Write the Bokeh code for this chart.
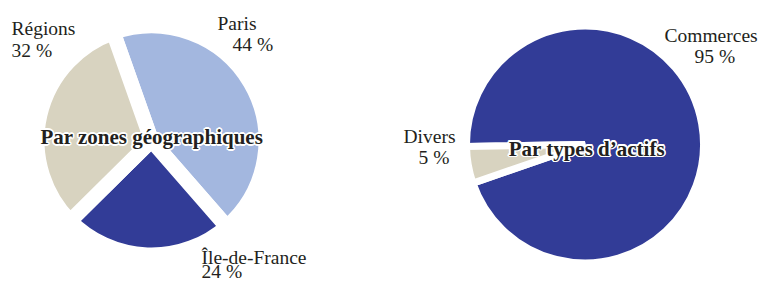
import numpy as np
from bokeh.plotting import figure
from bokeh.models import Range1d, ColumnDataSource
from bokeh.embed import file_html
from bokeh.resources import INLINE
from bokeh.core.properties import value

# ---------------- data ----------------
zone_names = ["Paris", "Île-de-France", "Régions"]
zone_shares = [44, 24, 32]
asset_names = ["Commerces", "Divers"]
asset_shares = [95, 5]
chart_titles = ["Par zones géographiques", "Par types d’actifs"]

# ---------------- style / layout ----------------
W, H = 763, 281
LIGHT_BLUE = "#A3B7DF"
DARK_BLUE = "#323C97"
BEIGE = "#D8D3C0"
TEXT = "#231F20"
FONT = "Liberation Serif"
TEXT_NUDGE = 7  # text renders this many px below the requested baseline

zone_colors = [LIGHT_BLUE, DARK_BLUE, BEIGE]
asset_colors = [DARK_BLUE, BEIGE]


def win(x, y):
    """picture pixel (top-left origin) -> data coordinates (y up)."""
    return x, H - y


def twin(x, y):
    return win(x, y - TEXT_NUDGE)


# pie geometry (picture px)
left_pie = dict(center=(151, 140), radius=114.5, gap=15, start=109.5)
right_pie = dict(center=(584.5, 144), radius=118.5, gap=7, start=181)

# label anchors: (left x, baseline y) for name line and value line
zone_label_pos = [[(217, 30), (232, 51)],
                  [(201, 264), (201, 278)],
                  [(11, 35), (11, 57)]]
asset_label_pos = [[(664, 42), (694, 63)],
                   [(403, 143), (418, 163.5)]]
title_pos = [(151.3, 143.5), (586.3, 155)]

p = figure(width=W, height=H, output_backend="svg", toolbar_location=None,
           x_range=Range1d(0, W), y_range=Range1d(0, H),
           min_border=0, x_axis_type=None, y_axis_type=None)
p.outline_line_color = None
p.grid.visible = False
p.background_fill_color = "white"
p.border_fill_color = "white"


def draw_pie(names, shares, colors, geom, label_pos):
    frac = np.array(shares, dtype=float) / np.sum(shares)
    cum = np.concatenate([[0.0], np.cumsum(frac)]) * 360.0
    a_from = geom["start"] - cum[:-1]   # clockwise
    a_to = geom["start"] - cum[1:]
    cx, cy = win(*geom["center"])
    src = ColumnDataSource(dict(
        x=[cx] * len(shares), y=[cy] * len(shares),
        start=np.radians(a_to), end=np.radians(a_from),
        color=colors))
    p.wedge(x="x", y="y", radius=geom["radius"], radius_units="screen",
            start_angle="start", end_angle="end", direction="anticlock",
            fill_color="color", line_color="white",
            line_width=geom["gap"], source=src)
    xs, ys, txt = [], [], []
    for name, share, pos in zip(names, shares, label_pos):
        for t, (px, py) in zip([name, f"{share} %"], pos):
            dx, dy = twin(px, py)
            xs.append(dx); ys.append(dy); txt.append(t)
    p.text(x=xs, y=ys, text=txt, text_font=value(FONT),
           text_font_size="19.5px", text_align="left",
           text_baseline="alphabetic", text_color=TEXT)


draw_pie(zone_names, zone_shares, zone_colors, left_pie, zone_label_pos)
draw_pie(asset_names, asset_shares, asset_colors, right_pie, asset_label_pos)

# titles with a white halo (white copies shifted around, then dark text)
tx, ty = zip(*[twin(*pp) for pp in title_pos])
halo = [(np.cos(a) * 1.6, np.sin(a) * 1.6)
        for a in np.linspace(0, 2 * np.pi, 12, endpoint=False)]
hx, hy, ht, hox, hoy = [], [], [], [], []
for x0, y0, t in zip(tx, ty, chart_titles):
    for ox, oy in halo:
        hx.append(x0); hy.append(y0); ht.append(t)
        hox.append(ox); hoy.append(oy)
p.text(x=hx, y=hy, text=ht, x_offset=hox, y_offset=hoy,
       text_font=value(FONT), text_font_size="21px",
       text_font_style="bold", text_align="center",
       text_baseline="alphabetic", text_color="white")
p.text(x=list(tx), y=list(ty), text=chart_titles, text_font=value(FONT),
       text_font_size="21px", text_font_style="bold", text_align="center",
       text_baseline="alphabetic", text_color=TEXT)

open("out.html", "w").write(file_html(p, INLINE))
